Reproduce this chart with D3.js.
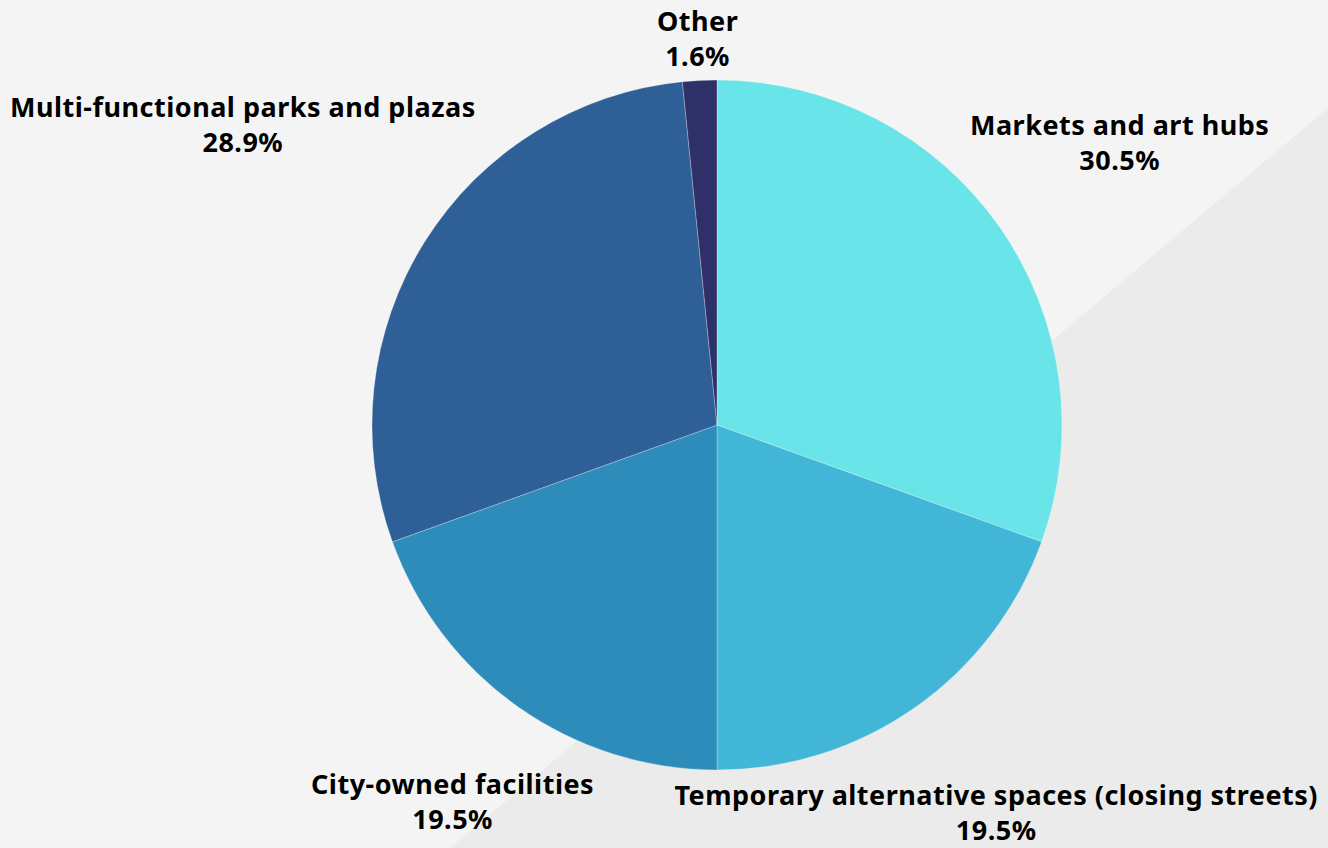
<!DOCTYPE html>
<html>
<head>
<meta charset="utf-8">
<script src="https://cdn.jsdelivr.net/npm/d3@7"></script>
<style>
  html, body { margin: 0; padding: 0; background: #f4f4f4; }
  svg { display: block; }
  .lbl { font-family: "Noto Sans", sans-serif; font-weight: 700; font-size: 27px; letter-spacing: 0.5px; fill: #000; }
</style>
</head>
<body>
<svg id="chart" width="1328" height="848"></svg>
<script>
// Share of responses by type of space
const categories = [
  "Markets and art hubs",
  "Temporary alternative spaces (closing streets)",
  "City-owned facilities",
  "Multi-functional parks and plazas",
  "Other"
];
const shares = [30.5, 19.5, 19.5, 28.9, 1.6];
const sliceColors = ["#69e4e8", "#42b6d6", "#2e8cba", "#2e5f97", "#2e3168"];

const W = 1328, H = 848;
const svg = d3.select("#chart");

// backdrop: light panel with a slightly darker diagonal wedge to the lower right
svg.append("rect").attr("width", W).attr("height", H).attr("fill", "#f4f4f4");
svg.append("path")
  .attr("d", d3.line()([[W, 108], [W, H], [450, H]]) + "Z")
  .attr("fill", "#ebebeb");

const cx = 717, cy = 425, R = 345;
const g = svg.append("g").attr("transform", `translate(${cx},${cy})`);

const data = categories.map((c, i) => ({ name: c, value: shares[i], color: sliceColors[i] }));
const pie = d3.pie().value(d => d.value).sort(null);
const arc = d3.arc().innerRadius(0).outerRadius(R);
const arcs = pie(data);

g.selectAll("path.slice")
  .data(arcs)
  .join("path")
  .attr("class", "slice")
  .attr("d", arc)
  .attr("fill", d => d.data.color)
  .attr("stroke", "rgba(255,255,255,0.45)")
  .attr("stroke-width", 0.6);

// labels: two lines, pushed outward along each slice's mid-angle until the box clears the pie
const lineGap = 35;
const labels = svg.selectAll("text.lbl")
  .data(arcs)
  .join("text")
  .attr("class", "lbl")
  .attr("text-anchor", "middle");
labels.append("tspan").attr("x", 0).attr("dy", 0).text(d => d.data.name);
labels.append("tspan").attr("x", 0).attr("dy", lineGap).text(d => d3.format(".1f")(d.data.value) + "%");

const pad = 4, edge = 10;
labels.each(function(d) {
  const el = d3.select(this);
  const bb = this.getBBox();
  const a = (d.startAngle + d.endAngle) / 2;
  const s = Math.sin(a), c = Math.cos(a);
  const dist = R + pad + Math.abs(s) * bb.width / 2 + Math.abs(c) * bb.height / 2;
  let bx = cx + dist * s, by = cy - dist * c;
  // keep the whole label inside the canvas
  bx = Math.max(edge + bb.width / 2, Math.min(W - edge - bb.width / 2, bx));
  by = Math.max(bb.height / 2, Math.min(H - bb.height / 2, by));
  const offY = bb.y + bb.height / 2;
  el.attr("transform", `translate(${bx},${by - offY})`);
});
</script>
</body>
</html>
